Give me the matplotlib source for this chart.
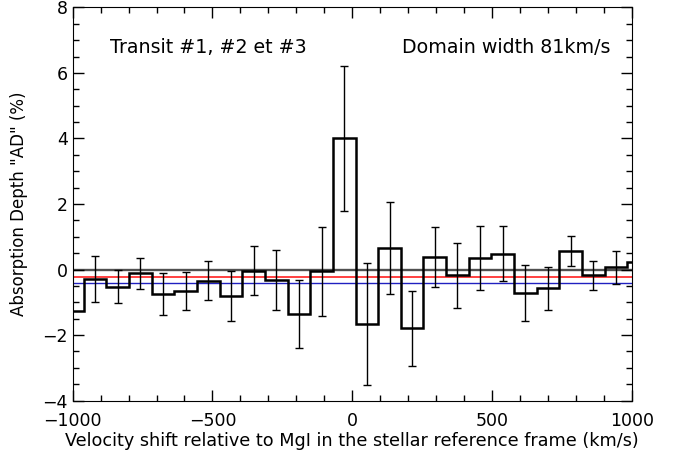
import numpy as np
import matplotlib
matplotlib.use("Agg")
import matplotlib.pyplot as plt
from matplotlib.ticker import MultipleLocator

# bins of 81 km/s, first edge
bin_edges = -1041 + 81 * np.arange(27)
bin_centers = (bin_edges[:-1] + bin_edges[1:]) / 2

# absorption depth (%) per bin
depth = [-1.27, -0.30, -0.52, -0.12, -0.76, -0.66, -0.34, -0.81, -0.04, -0.32,
         -1.35, -0.06, 4.00, -1.66, 0.65, -1.79, 0.39, -0.18, 0.36, 0.48,
         -0.71, -0.57, 0.57, -0.18, 0.07, 0.24]
depth_err = [0.70, 0.70, 0.50, 0.47, 0.64, 0.59, 0.60, 0.77, 0.75, 0.92,
             1.03, 1.37, 2.20, 1.85, 1.40, 1.15, 0.92, 1.00, 0.97, 0.84,
             0.86, 0.66, 0.46, 0.45, 0.50, 0.50]

zero_level = 0.0
red_level = -0.22
blue_level = -0.42

plt.rcParams['font.family'] = ['DejaVu Sans']

fig = plt.figure(figsize=(6.76, 4.61), dpi=100)
ax = fig.add_axes([0.1075, 0.131, 0.827, 0.853])

ax.axhline(zero_level, color="#505050", lw=1.7, zorder=1)
ax.axhline(red_level, color="#ff4040", lw=1.4, zorder=1)
ax.axhline(blue_level, color="#2020c0", lw=1.0, zorder=1)

ax.stairs(depth, bin_edges, color="black", lw=1.8, baseline=None, zorder=3)

# only the bins whose centre falls inside the plotted range get an error bar
c = np.array(bin_centers)
inside = (c > -1000) & (c < 1000)
ax.errorbar(c[inside], np.array(depth)[inside], yerr=np.array(depth_err)[inside],
            fmt="none", ecolor="black", elinewidth=1.0, capsize=3, capthick=1.0, zorder=2)

ax.set_xlim(-1000, 1000)
ax.set_ylim(-4, 8)
ax.xaxis.set_major_locator(MultipleLocator(500))
ax.xaxis.set_minor_locator(MultipleLocator(100))
ax.yaxis.set_major_locator(MultipleLocator(2))
ax.yaxis.set_minor_locator(MultipleLocator(0.5))
ax.tick_params(which="both", direction="in", top=True, right=True, labelsize=12.5)
ax.tick_params(which="major", length=8, width=1)
ax.tick_params(which="minor", length=4, width=1)
ax.tick_params(axis="x", which="major", pad=8)

ax.set_xlabel("Velocity shift relative to MgI in the stellar reference frame (km/s)",
              fontsize=12.7, labelpad=2)
ax.set_ylabel('Absorption Depth "AD" (%)', fontsize=12, labelpad=10)

ax.text(0.067, 0.897, "Transit #1, #2 et #3", transform=ax.transAxes, fontsize=13.7, va="center")
ax.text(0.961, 0.897, "Domain width 81km/s", transform=ax.transAxes, fontsize=13.7,
        va="center", ha="right")

fig.savefig("out.png", dpi=100)
